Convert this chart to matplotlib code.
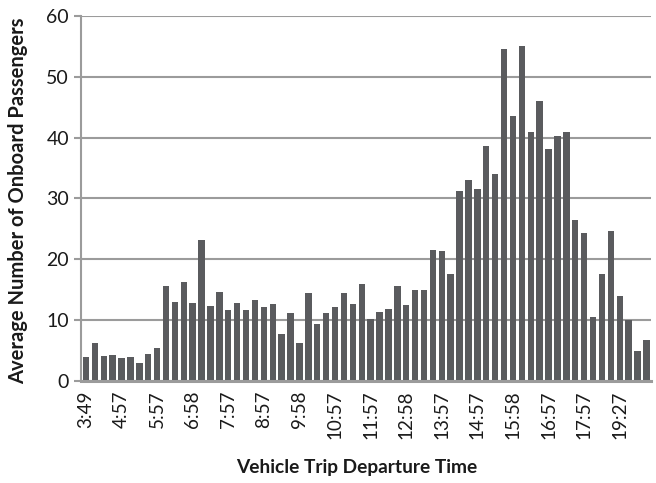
import matplotlib
matplotlib.use("Agg")
import matplotlib.pyplot as plt
import numpy as np

# Average onboard passengers for each vehicle trip, in departure order
passengers = [
    3.9, 6.3, 4.1, 4.3, 3.8, 4.0, 2.9, 4.5, 5.5, 15.6,
    13.0, 16.3, 12.9, 23.1, 12.4, 14.7, 11.6, 12.8, 11.6, 13.3,
    12.2, 12.6, 7.8, 11.2, 6.2, 14.4, 9.3, 11.2, 12.2, 14.4,
    12.7, 16.0, 10.2, 11.3, 11.8, 15.6, 12.5, 14.9, 15.0, 21.6,
    21.3, 17.6, 31.3, 33.1, 31.6, 38.7, 34.1, 54.6, 43.6, 55.1,
    40.9, 46.1, 38.1, 40.3, 41.0, 26.4, 24.3, 10.5, 17.6, 24.6,
    14.0, 10.1, 4.9, 6.8,
]

# Departure times shown on the category axis (every fourth trip)
tick_labels = ["3:49", "4:57", "5:57", "6:58", "7:57", "8:57", "9:58", "10:57",
               "11:57", "12:58", "13:57", "14:57", "15:58", "16:57", "17:57", "19:27"]
label_step = 4

y_ticks = [0, 10, 20, 30, 40, 50, 60]

bar_color = "#5a5b5e"
grid_color = "#9b9b9b"
text_color = "#1a1a1a"

plt.rcParams["font.family"] = ["Lato", "DejaVu Sans"]

fig = plt.figure(figsize=(6.56, 4.83), dpi=100)
ax = fig.add_axes([0.1242, 0.2112, 0.8680, 0.7557])

x = np.arange(len(passengers))
ax.bar(x, passengers, width=0.72, color=bar_color, zorder=3)

ax.set_xlim(-0.5, len(passengers) - 0.5)
ax.set_ylim(0, 60)
ax.set_yticks(y_ticks)
ax.set_yticklabels([str(v) for v in y_ticks], fontsize=14, color=text_color)

ax.set_xticks(x[::label_step])
ax.set_xticklabels(tick_labels, rotation=90, fontsize=13.5, color=text_color)
ax.tick_params(axis="x", length=0, pad=7)
ax.tick_params(axis="y", length=5, width=1.5, color=grid_color, pad=4)

ax.yaxis.grid(True, color=grid_color, linewidth=1.5, zorder=0)
ax.set_axisbelow(True)

for side in ["top", "right"]:
    ax.spines[side].set_visible(False)
ax.spines["left"].set_color(grid_color)
ax.spines["left"].set_linewidth(1.5)
ax.spines["bottom"].set_color(grid_color)
ax.spines["bottom"].set_linewidth(2.2)
ax.spines["bottom"].set_zorder(4)

ax.set_ylabel("Average Number of Onboard Passengers", fontsize=14.5,
              fontweight="bold", color=text_color)
ax.yaxis.set_label_coords(-0.094, 0.495)
ax.set_xlabel("Vehicle Trip Departure Time", fontsize=13.8,
              fontweight="bold", color=text_color)
ax.xaxis.set_label_coords(0.484, -0.215)

fig.savefig("out.png", dpi=100)
